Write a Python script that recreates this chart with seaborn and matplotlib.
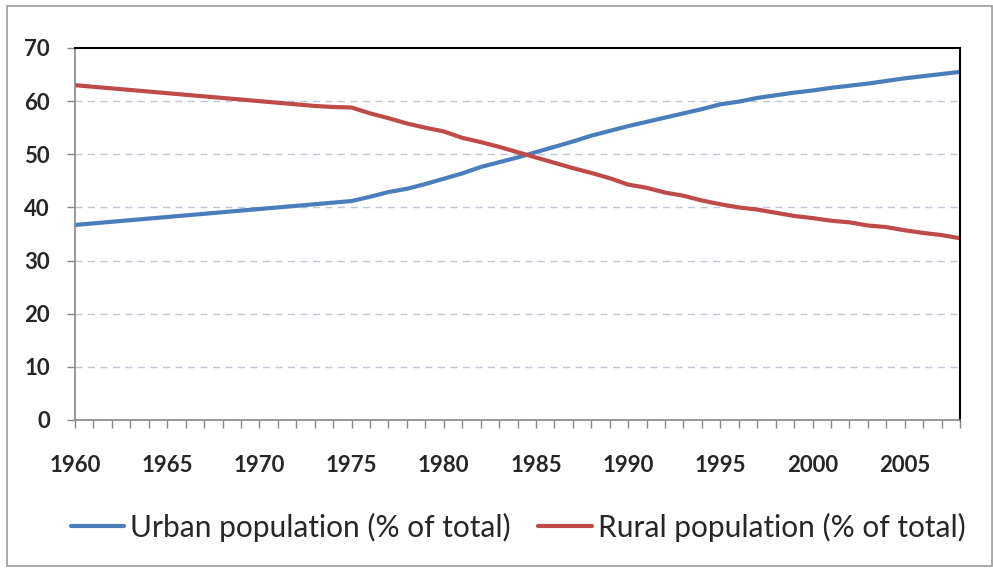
import matplotlib
matplotlib.use("Agg")
import matplotlib.pyplot as plt
import seaborn as sns
import pandas as pd
from matplotlib.patches import Rectangle

years = list(range(1960, 2009))
urban = [36.7, 37.0, 37.3, 37.6, 37.9, 38.2, 38.5, 38.8, 39.1, 39.4,
         39.7, 40.0, 40.3, 40.6, 40.9, 41.2, 42.0, 42.9, 43.5, 44.4,
         45.4, 46.4, 47.6, 48.5, 49.4, 50.4, 51.4, 52.4, 53.5, 54.4,
         55.3, 56.1, 56.9, 57.7, 58.5, 59.4, 59.9, 60.6, 61.1, 61.6,
         62.0, 62.5, 62.9, 63.3, 63.8, 64.3, 64.7, 65.1, 65.5]
rural = [63.0, 62.7, 62.4, 62.1, 61.8, 61.5, 61.2, 60.9, 60.6, 60.3,
         60.0, 59.7, 59.4, 59.1, 58.9, 58.8, 57.7, 56.8, 55.8, 55.0,
         54.3, 53.1, 52.3, 51.4, 50.4, 49.4, 48.4, 47.4, 46.5, 45.5,
         44.3, 43.7, 42.8, 42.2, 41.3, 40.6, 40.0, 39.6, 39.0, 38.4,
         38.0, 37.5, 37.2, 36.6, 36.3, 35.7, 35.2, 34.8, 34.2]
series_names = ["Urban population (% of total)", "Rural population (% of total)"]
colors = ["#4a7ebb", "#be4b48"]
y_ticks = [0, 10, 20, 30, 40, 50, 60, 70]
x_label_years = [1960, 1965, 1970, 1975, 1980, 1985, 1990, 1995, 2000, 2005]

df = pd.DataFrame({
    "year": years * 2,
    "value": urban + rural,
    "series": [series_names[0]] * len(years) + [series_names[1]] * len(years),
})

sns.set_style("white")
plt.rcParams["font.family"] = ["Lato", "DejaVu Sans"]

fig = plt.figure(figsize=(9.93, 5.69), dpi=100)
ax = fig.add_axes([75 / 993, 1 - 420 / 569, 885 / 993, 372 / 569])

sns.lineplot(data=df, x="year", y="value", hue="series", palette=colors,
             linewidth=3.0, ax=ax, legend=False)

ax.set_xlim(1960, 2008)
ax.set_ylim(0, 70)
ax.set_xlabel("")
ax.set_ylabel("")

ax.set_yticks(y_ticks)
ax.set_yticklabels([str(v) for v in y_ticks], fontsize=16, fontweight="bold")
ax.set_xticks(years, minor=True)
ax.set_xticks(x_label_years)
ax.set_xticklabels([str(v) for v in x_label_years], fontsize=16, fontweight="bold")
ax.tick_params(axis="x", which="both", direction="out", length=6, width=1,
               color="#868686", pad=19, bottom=True)
ax.tick_params(axis="y", which="major", direction="out", length=6, width=1,
               color="#868686", pad=12, left=True)

for v in y_ticks[1:-1]:
    ax.axhline(v, color="#bcc6d6", linestyle=(0, (5, 4)), linewidth=1, zorder=0)

for side in ["left", "bottom"]:
    ax.spines[side].set_color("#868686")
    ax.spines[side].set_linewidth(1.2)
for side in ["top", "right"]:
    ax.spines[side].set_color("black")
    ax.spines[side].set_linewidth(1.5)
    ax.spines[side].set_visible(True)

handles = [plt.Line2D([], [], color=c, linewidth=3.0) for c in colors]
fig.legend(handles, series_names, loc="center", bbox_to_anchor=(518 / 993, 1 - 527 / 569),
           ncol=2, frameon=False, fontsize=21.5, handlelength=1.8, handletextpad=0.2,
           columnspacing=0.9)

fig.patches.append(Rectangle((7 / 993, 3 / 569), 985 / 993, 560 / 569,
                             transform=fig.transFigure, fill=False,
                             edgecolor="#9a9a9a", linewidth=1.2))

fig.savefig("out.png", dpi=100)
